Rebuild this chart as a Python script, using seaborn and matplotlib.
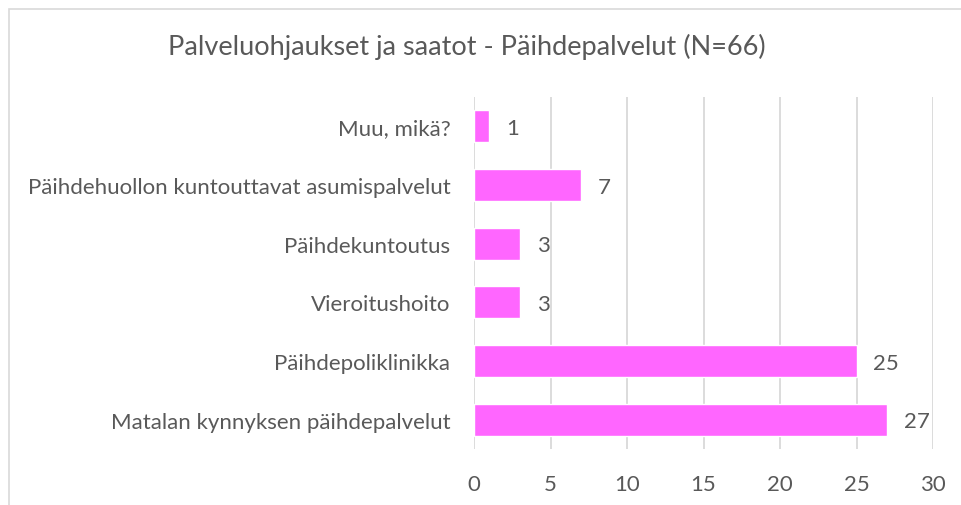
import matplotlib
matplotlib.use('Agg')
import matplotlib.pyplot as plt
import seaborn as sns
import pandas as pd
from matplotlib.patches import Rectangle

# chart data (top to bottom as shown)
categories = [
    'Muu, mikä?',
    'Päihdehuollon kuntouttavat asumispalvelut',
    'Päihdekuntoutus',
    'Vieroitushoito',
    'Päihdepoliklinikka',
    'Matalan kynnyksen päihdepalvelut',
]
counts = [1, 7, 3, 3, 25, 27]
x_ticks = [0, 5, 10, 15, 20, 25, 30]
title = 'Palveluohjaukset ja saatot - Päihdepalvelut (N=66)'

text_color = '#595959'
bar_color = '#FF66FF'
grid_color = '#D9D9D9'

sns.set_style('white')
plt.rcParams['font.family'] = ['Lato', 'DejaVu Sans']

df = pd.DataFrame({'category': categories, 'count': counts})

fig = plt.figure(figsize=(9.61, 5.06), dpi=100)
ax = fig.add_axes([474 / 961, 1 - 450 / 506, (933 - 474) / 961, (450 - 98) / 506])

sns.barplot(data=df, x='count', y='category', orient='h', color=bar_color,
            saturation=1, width=0.55, ax=ax, zorder=3)

ax.set_xlim(0, 30)
ax.set_ylim(5.5, -0.5)
ax.set_xticks(x_ticks)
ax.set_xlabel('')
ax.set_ylabel('')
ax.grid(axis='x', color=grid_color, linewidth=1.3, zorder=0)
ax.set_axisbelow(True)
for side in ['top', 'right', 'bottom', 'left']:
    ax.spines[side].set_visible(False)
ax.tick_params(axis='both', length=0, colors=text_color, labelsize=16)
ax.tick_params(axis='y', pad=17)
ax.tick_params(axis='x', pad=18)

# value labels
for i, v in enumerate(counts):
    ax.text(v + 1.1, i + 0.03, str(v), va='center', ha='left', fontsize=16,
            color=text_color)

fig.text(467 / 961, 1 - 47 / 506, title, ha='center', va='center',
         fontsize=19.5, color=text_color)

# chart border (only left and top visible in reference)
fig.patches.append(Rectangle((8.5 / 961, -0.1), 1.2, 1.1 - 9.5 / 506,
                             transform=fig.transFigure, fill=False,
                             edgecolor=grid_color, linewidth=1.2))

fig.savefig('out.png', dpi=100)
